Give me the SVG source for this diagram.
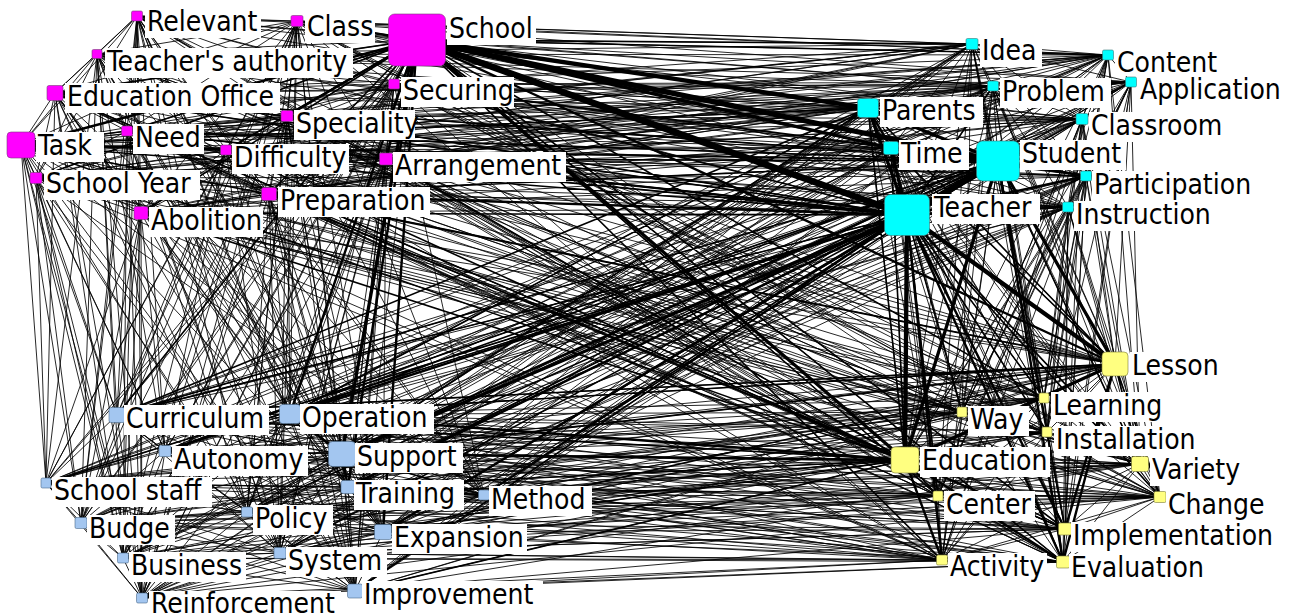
<svg xmlns="http://www.w3.org/2000/svg" width="1292" height="614" viewBox="0 0 1292 614">
<style>
.e{fill:none;stroke:#000;stroke-width:.85;stroke-linejoin:round}
.w1{fill:none;stroke:#000;stroke-width:1.6}
.w2{fill:none;stroke:#000;stroke-width:2.4}
.w3{fill:none;stroke:#000;stroke-width:3.3}
.w4{fill:none;stroke:#000;stroke-width:4.3}
.w5{fill:none;stroke:#000;stroke-width:5.3}
.w6{fill:none;stroke:#000;stroke-width:6.5}
.m{fill:#ff00ff;stroke:#7a3a7a;stroke-width:.6}
.c{fill:#00ffff;stroke:#3a7a7a;stroke-width:.6}
.y{fill:#ffff80;stroke:#7a7a3a;stroke-width:.6}
.b{fill:#a3c6f0;stroke:#4a6a8a;stroke-width:.6}
.lb{fill:#fff}
.t{font-family:"DejaVu Sans Condensed","DejaVu Sans",sans-serif;font-stretch:condensed;font-size:28px;fill:#000}
</style>
<rect width="1292" height="614" fill="#fff"/>
<g id="connectors">
<path class="e" d="M137 16L297 21 417 40 97 54 55 93 394 84 287 116 21 145 127 131 226 150 386 159 36 178 269 194 141 213 972 44 1108 55 1131 82 993 86 868 108 1082 119 891 148 998 161 1086 176 907 215 1068 207 1115 364 1044 398 962 412 1047 432 905 460 1140 464 938 496 1160 497 1065 529 942 560 1063 562 117 415 290 414 165 451 342 454 46 483 348 487 484 495 247 512 81 523 383 532 123 558 280 553 355 591 142 598 137 16"/>
<path class="e" d="M137 16L97 54 287 116 226 150 269 194 1108 55 868 108 998 161 1068 207 962 412 1140 464 1065 529 117 415 342 454 484 495 383 532 355 591 297 21 55 93 21 145 386 159 141 213 1131 82 1082 119 1086 176 1115 364 1047 432 938 496 942 560 290 414 46 483 247 512 123 558 142 598 417 40 394 84 127 131 36 178 972 44 993 86 891 148 907 215 1044 398 905 460 1160 497 1063 562 165 451 348 487 81 523 280 553 137 16"/>
<path class="e" d="M137 16L21 145 972 44 998 161 1047 432 1063 562 484 495 142 598 287 116 141 213 891 148 962 412 942 560 348 487 355 591 394 84 269 194 1082 119 1044 398 1065 529 46 483 280 553 55 93 36 178 868 108 1115 364 1160 497 342 454 123 558 97 54 386 159 993 86 1068 207 938 496 165 451 383 532 417 40 226 150 1131 82 907 215 1140 464 290 414 81 523 297 21 127 131 1108 55 1086 176 905 460 117 415 247 512 137 16"/>
<path class="e" d="M137 16L226 150 868 108 962 412 117 415 383 532 55 93 141 213 1086 176 938 496 46 483 142 598 127 131 993 86 1044 398 1063 562 81 523 97 54 269 194 998 161 1140 464 342 454 355 591 21 145 1131 82 1115 364 942 560 247 512 417 40 36 178 891 148 905 460 165 451 280 553 287 116 1108 55 1068 207 1065 529 484 495 297 21 386 159 1082 119 1047 432 290 414 123 558 394 84 972 44 907 215 1160 497 348 487 137 16"/>
<path class="e" d="M137 16L36 178 1086 176 1065 529 81 523 394 84 1131 82 962 412 165 451 142 598 386 159 998 161 1160 497 247 512 55 93 1108 55 1044 398 290 414 355 591 226 150 891 148 938 496 484 495 97 54 972 44 1115 364 117 415 280 553 127 131 1082 119 1140 464 348 487 417 40 141 213 1068 207 1063 562 123 558 21 145 868 108 905 460 46 483 297 21 269 194 907 215 942 560 383 532 287 116 993 86 1047 432 342 454 137 16"/>
<path class="e" d="M137 16L141 213 1044 398 342 454 417 40 1108 55 1047 432 348 487 55 93 993 86 1140 464 247 512 287 116 1082 119 1160 497 383 532 127 131 998 161 942 560 280 553 386 159 907 215 117 415 142 598 269 194 1115 364 165 451 297 21 972 44 962 412 46 483 97 54 1131 82 905 460 484 495 394 84 868 108 938 496 81 523 21 145 891 148 1065 529 123 558 226 150 1086 176 1063 562 355 591 36 178 1068 207 290 414 137 16"/>
<path class="e" d="M137 16L993 86 942 560 297 21 868 108 1063 562 417 40 1082 119 117 415 97 54 891 148 290 414 55 93 998 161 165 451 394 84 1086 176 342 454 287 116 907 215 46 483 21 145 1068 207 348 487 127 131 1115 364 484 495 226 150 1044 398 247 512 386 159 962 412 81 523 36 178 1047 432 383 532 269 194 905 460 123 558 141 213 1140 464 280 553 972 44 938 496 355 591 1108 55 1160 497 142 598 1131 82 1065 529 137 16"/>
<path class="e" d="M137 16L1082 119 165 451 21 145 1044 398 383 532 972 44 1065 529 417 40 998 161 46 483 226 150 1047 432 280 553 1131 82 1063 562 55 93 907 215 484 495 36 178 1140 464 142 598 868 108 290 414 287 116 1115 364 81 523 141 213 1160 497 297 21 891 148 342 454 127 131 962 412 123 558 1108 55 942 560 97 54 1086 176 348 487 386 159 905 460 355 591 993 86 117 415 394 84 1068 207 247 512 269 194 938 496 137 16"/>
<path class="e" d="M137 16L998 161 484 495 141 213 942 560 394 84 1044 398 280 553 868 108 342 454 386 159 938 496 417 40 907 215 81 523 1108 55 117 415 21 145 1047 432 142 598 891 148 348 487 269 194 1065 529 55 93 1115 364 123 558 993 86 165 451 226 150 1140 464 297 21 1086 176 247 512 972 44 1063 562 287 116 962 412 355 591 1082 119 46 483 36 178 1160 497 97 54 1068 207 383 532 1131 82 290 414 127 131 905 460 137 16"/>
<path class="e" d="M137 16L907 215 123 558 1082 119 484 495 1108 55 165 451 36 178 942 560 21 145 1140 464 97 54 1044 398 142 598 1086 176 383 532 868 108 348 487 972 44 290 414 386 159 1065 529 287 116 905 460 417 40 1115 364 355 591 998 161 81 523 993 86 46 483 141 213 117 415 226 150 1160 497 394 84 1047 432 297 21 1068 207 280 553 891 148 247 512 1131 82 342 454 269 194 1063 562 127 131 938 496 55 93 962 412 137 16"/>
<path class="e" d="M137 16L417 40 55 93 287 116 127 131 386 159 269 194 972 44 1131 82 868 108 891 148 1086 176 1068 207 1044 398 1047 432 1140 464 1160 497 942 560 117 415 165 451 46 483 484 495 81 523 123 558 355 591 137 16M297 21L97 54 394 84 21 145 226 150 36 178 141 213 1108 55 993 86 1082 119 998 161 907 215 1115 364 962 412 905 460 938 496 1065 529 1063 562 290 414 342 454 348 487 247 512 383 532 280 553 142 598 297 21"/>
<path class="e" d="M137 16L55 93 127 131 269 194 1131 82 891 148 1068 207 1047 432 1160 497 117 415 46 483 81 523 355 591 417 40 287 116 386 159 972 44 868 108 1086 176 1044 398 1140 464 942 560 165 451 484 495 123 558 137 16M297 21L394 84 226 150 141 213 993 86 998 161 1115 364 905 460 1065 529 290 414 348 487 383 532 142 598 97 54 21 145 36 178 1108 55 1082 119 907 215 962 412 938 496 1063 562 342 454 247 512 280 553 297 21"/>
<path class="e" d="M137 16L287 116 269 194 868 108 1068 207 1140 464 117 415 484 495 355 591 55 93 386 159 1131 82 1086 176 1047 432 942 560 46 483 123 558 417 40 127 131 972 44 891 148 1044 398 1160 497 165 451 81 523 137 16M297 21L21 145 141 213 1082 119 1115 364 938 496 290 414 247 512 142 598 394 84 36 178 993 86 907 215 905 460 1063 562 348 487 280 553 97 54 226 150 1108 55 998 161 962 412 1065 529 342 454 383 532 297 21"/>
<path class="e" d="M137 16L127 131 1131 82 1068 207 1160 497 46 483 355 591 287 116 972 44 1086 176 1140 464 165 451 123 558 55 93 269 194 891 148 1047 432 117 415 81 523 417 40 386 159 868 108 1044 398 942 560 484 495 137 16M297 21L226 150 993 86 1115 364 1065 529 348 487 142 598 21 145 1108 55 907 215 938 496 342 454 280 553 394 84 141 213 998 161 905 460 290 414 383 532 97 54 36 178 1082 119 962 412 1063 562 247 512 297 21"/>
<path class="e" d="M137 16L394 84 386 159 1108 55 891 148 1115 364 1140 464 1063 562 46 483 383 532 137 16M297 21L287 116 36 178 1131 82 998 161 1044 398 938 496 117 415 348 487 123 558 297 21M417 40L21 145 269 194 993 86 1086 176 962 412 1160 497 290 414 484 495 280 553 417 40M97 54L127 131 141 213 868 108 907 215 1047 432 1065 529 165 451 247 512 355 591 97 54M55 93L226 150 972 44 1082 119 1068 207 905 460 942 560 342 454 81 523 142 598 55 93"/>
<path class="e" d="M137 16L1108 55 1140 464 383 532 386 159 1115 364 46 483 394 84 891 148 1063 562 137 16M297 21L1131 82 938 496 123 558 36 178 1044 398 348 487 287 116 998 161 117 415 297 21M417 40L993 86 1160 497 280 553 269 194 962 412 484 495 21 145 1086 176 290 414 417 40M97 54L868 108 1065 529 355 591 141 213 1047 432 247 512 127 131 907 215 165 451 97 54M55 93L1082 119 942 560 142 598 972 44 905 460 81 523 226 150 1068 207 342 454 55 93"/>
<path class="e" d="M137 16L1115 364M297 21L1044 398M417 40L962 412M97 54L1047 432M55 93L905 460M394 84L1140 464M287 116L938 496M21 145L1160 497M127 131L1065 529M226 150L942 560M386 159L1063 562M36 178L117 415M269 194L290 414M141 213L165 451M972 44L342 454M1108 55L46 483M1131 82L348 487M993 86L484 495M868 108L247 512M1082 119L81 523M891 148L383 532M998 161L123 558M1086 176L280 553M907 215L355 591M1068 207L142 598"/>
<path class="e" d="M137 16L269 194 1068 207 117 415 355 591 386 159 1086 176 942 560 123 558 127 131 891 148 1160 497 81 523 287 116 868 108 1140 464 484 495 55 93 1131 82 1047 432 46 483 417 40 972 44 1044 398 165 451 137 16M297 21L141 213 1115 364 290 414 142 598 36 178 907 215 1063 562 280 553 226 150 998 161 1065 529 383 532 21 145 1082 119 938 496 247 512 394 84 993 86 905 460 348 487 97 54 1108 55 962 412 342 454 297 21"/>
<path class="e" d="M137 16L972 44 1047 432 484 495 287 116 891 148 942 560 355 591 269 194 1044 398 46 483 55 93 868 108 1160 497 123 558 386 159 1068 207 165 451 417 40 1131 82 1140 464 81 523 127 131 1086 176 117 415 137 16M297 21L1108 55 905 460 247 512 21 145 998 161 1063 562 142 598 141 213 962 412 348 487 394 84 1082 119 1065 529 280 553 36 178 1115 364 342 454 97 54 993 86 938 496 383 532 226 150 907 215 290 414 297 21"/>
<path class="w1" d="M417 40L972 44M417 40L117 415M417 40L55 93M417 40L1108 55M417 40L269 194M417 40L226 150M417 40L127 131M907 215L342 454M907 215L117 415M907 215L21 145M907 215L55 93M998 161L290 414M998 161L269 194M905 460L117 415M905 460L383 532M905 460L348 487M1115 364L342 454M1115 364L290 414M907 215L1044 398M907 215L1047 432M907 215L962 412M998 161L1065 529M417 40L1044 398M21 145L226 150M21 145L127 131M55 93L287 116M342 454L484 495M907 215L1082 119M907 215L993 86M868 108L1115 364M21 145L998 161M21 145L905 460M55 93L998 161M127 131L907 215M226 150L907 215M269 194L905 460M386 159L998 161M386 159L905 460M287 116L907 215M394 84L907 215M394 84L998 161M117 415L998 161M117 415L1115 364M290 414L1115 364M348 487L907 215M348 487L998 161M383 532L998 161M383 532L1115 364M484 495L907 215M165 451L907 215M247 512L907 215M46 483L907 215M280 553L907 215M355 591L905 460M355 591L907 215M417 40L1065 529M417 40L1063 562M417 40L942 560M417 40L938 496M868 108L905 460M891 148L905 460M891 148L1115 364M907 215L938 496M907 215L1140 464M907 215L1160 497M998 161L1140 464M1115 364L1160 497M1115 364L1140 464M905 460L1065 529M905 460L938 496M417 40L141 213M417 40L36 178M21 145L868 108M21 145L1115 364M55 93L905 460M141 213L907 215M141 213L905 460M269 194L998 161M269 194L1115 364M117 415L868 108M290 414L868 108M342 454L868 108M383 532L907 215M484 495L998 161M165 451L998 161M226 150L905 460M127 131L998 161"/>
<path class="w2" d="M417 40L1115 364M417 40L290 414M417 40L348 487M417 40L383 532M417 40L386 159M417 40L394 84M417 40L297 21M417 40L21 145M417 40L287 116M907 215L290 414M907 215L269 194M907 215L386 159M907 215L383 532M907 215L348 487M907 215L942 560M907 215L1063 562M907 215L1065 529M907 215L1086 176M907 215L1068 207M998 161L1086 176M998 161L342 454M998 161L1063 562M905 460L342 454M905 460L290 414M905 460L942 560M905 460L1063 562M1115 364L1065 529M1115 364L1063 562M342 454L290 414M342 454L348 487M868 108L891 148"/>
<path class="w3" d="M417 40L891 148M417 40L905 460M417 40L342 454M907 215L868 108M907 215L891 148M907 215L342 454M998 161L1115 364M998 161L905 460M998 161L868 108M905 460L1115 364"/>
<path class="w4" d="M417 40L868 108M907 215L905 460M907 215L1115 364"/>
<path class="w5" d="M417 40L998 161"/>
<path class="w6" d="M417 40L907 215M907 215L998 161"/>
</g>
<g id="n-relevant"><rect class="m" x="131.5" y="11" width="11" height="10" rx="1.5"/><rect class="lb" x="145" y="8" width="116" height="30"/><text class="t" x="147" y="31">Relevant</text></g>
<g id="n-class"><rect class="m" x="291" y="15.5" width="12" height="11" rx="1.5"/><rect class="lb" x="305" y="13" width="70" height="30"/><text class="t" x="307" y="36">Class</text></g>
<g id="n-school"><rect class="m" x="388.5" y="14" width="57" height="52" rx="6"/><rect class="lb" x="447" y="15" width="89" height="30"/><text class="t" x="449" y="38">School</text></g>
<g id="n-teachers-authority"><rect class="m" x="92" y="49.5" width="10" height="9" rx="1.5"/><rect class="lb" x="105" y="48" width="248" height="30"/><text class="t" x="107" y="71">Teacher's authority</text></g>
<g id="n-education-office"><rect class="m" x="47" y="85.5" width="16" height="15" rx="2"/><rect class="lb" x="65" y="83" width="215" height="30"/><text class="t" x="67" y="106">Education Office</text></g>
<g id="n-securing"><rect class="m" x="388.5" y="79" width="11" height="10" rx="1.5"/><rect class="lb" x="401" y="77" width="113" height="30"/><text class="t" x="403" y="100">Securing</text></g>
<g id="n-speciality"><rect class="m" x="281" y="110.5" width="12" height="11" rx="1.5"/><rect class="lb" x="294" y="110" width="121" height="30"/><text class="t" x="296" y="133">Speciality</text></g>
<g id="n-task"><rect class="m" x="7" y="132" width="28" height="26" rx="4"/><rect class="lb" x="36" y="132" width="68" height="30"/><text class="t" x="38" y="155">Task</text></g>
<g id="n-need"><rect class="m" x="121.5" y="126" width="11" height="10" rx="1.5"/><rect class="lb" x="133" y="124" width="71" height="30"/><text class="t" x="135" y="147">Need</text></g>
<g id="n-difficulty"><rect class="m" x="220.5" y="145" width="11" height="10" rx="1.5"/><rect class="lb" x="232" y="144" width="117" height="30"/><text class="t" x="234" y="167">Difficulty</text></g>
<g id="n-arrangement"><rect class="m" x="379.5" y="153" width="13" height="12" rx="1.5"/><rect class="lb" x="393" y="152" width="173" height="30"/><text class="t" x="395" y="175">Arrangement</text></g>
<g id="n-school-year"><rect class="m" x="30" y="172.5" width="12" height="11" rx="1.5"/><rect class="lb" x="44" y="170" width="156" height="30"/><text class="t" x="46" y="193">School Year</text></g>
<g id="n-preparation"><rect class="m" x="261.5" y="187.5" width="15" height="13" rx="2"/><rect class="lb" x="278" y="187" width="152" height="30"/><text class="t" x="280" y="210">Preparation</text></g>
<g id="n-abolition"><rect class="m" x="134" y="206.5" width="14" height="13" rx="2"/><rect class="lb" x="149" y="207" width="114" height="30"/><text class="t" x="151" y="230">Abolition</text></g>
<g id="n-idea"><rect class="c" x="966" y="38.5" width="12" height="11" rx="1.5"/><rect class="lb" x="980" y="37" width="62" height="30"/><text class="t" x="982" y="60">Idea</text></g>
<g id="n-content"><rect class="c" x="1102.5" y="50" width="11" height="10" rx="1.5"/><rect class="lb" x="1115" y="49" width="106" height="27"/><text class="t" x="1117" y="72">Content</text></g>
<g id="n-application"><rect class="c" x="1125.5" y="77" width="11" height="10" rx="1.5"/><rect class="lb" x="1138" y="77" width="143" height="29"/><text class="t" x="1140" y="99">Application</text></g>
<g id="n-problem"><rect class="c" x="987.5" y="81" width="11" height="10" rx="1.5"/><rect class="lb" x="1000" y="78" width="111" height="30"/><text class="t" x="1002" y="101">Problem</text></g>
<g id="n-parents"><rect class="c" x="857.5" y="98.5" width="21" height="19" rx="3"/><rect class="lb" x="880" y="97" width="103" height="30"/><text class="t" x="882" y="120">Parents</text></g>
<g id="n-classroom"><rect class="c" x="1076" y="113.5" width="12" height="11" rx="1.5"/><rect class="lb" x="1089" y="112" width="137" height="30"/><text class="t" x="1091" y="135">Classroom</text></g>
<g id="n-time"><rect class="c" x="883.5" y="141.5" width="15" height="13" rx="2"/><rect class="lb" x="899" y="140" width="70" height="30"/><text class="t" x="901" y="163">Time</text></g>
<g id="n-student"><rect class="c" x="976.5" y="141" width="43" height="40" rx="6"/><rect class="lb" x="1020" y="140" width="106" height="30"/><text class="t" x="1022" y="163">Student</text></g>
<g id="n-participation"><rect class="c" x="1080.5" y="171" width="11" height="10" rx="1.5"/><rect class="lb" x="1092" y="171" width="162" height="30"/><text class="t" x="1094" y="194">Participation</text></g>
<g id="n-teacher"><rect class="c" x="884.5" y="194.5" width="45" height="41" rx="6"/><rect class="lb" x="932" y="194" width="108" height="30"/><text class="t" x="934" y="217">Teacher</text></g>
<g id="n-instruction"><rect class="c" x="1062.5" y="202" width="11" height="10" rx="1.5"/><rect class="lb" x="1074" y="201" width="141" height="30"/><text class="t" x="1076" y="224">Instruction</text></g>
<g id="n-lesson"><rect class="y" x="1102" y="352" width="26" height="24" rx="4"/><rect class="lb" x="1130" y="352" width="94" height="30"/><text class="t" x="1132" y="375">Lesson</text></g>
<g id="n-learning"><rect class="y" x="1039" y="393" width="10" height="10" rx="1.5"/><rect class="lb" x="1051" y="392" width="115" height="30"/><text class="t" x="1053" y="415">Learning</text></g>
<g id="n-way"><rect class="y" x="957" y="407" width="10" height="10" rx="1.5"/><rect class="lb" x="968" y="406" width="61" height="30"/><text class="t" x="970" y="429">Way</text></g>
<g id="n-installation"><rect class="y" x="1042" y="427" width="10" height="10" rx="1.5"/><rect class="lb" x="1054" y="426" width="146" height="30"/><text class="t" x="1056" y="449">Installation</text></g>
<g id="n-education"><rect class="y" x="891" y="447" width="28" height="26" rx="4"/><rect class="lb" x="920" y="447" width="130" height="30"/><text class="t" x="922" y="470">Education</text></g>
<g id="n-variety"><rect class="y" x="1131.5" y="456.5" width="17" height="15" rx="2"/><rect class="lb" x="1150" y="456" width="94" height="30"/><text class="t" x="1152" y="479">Variety</text></g>
<g id="n-center"><rect class="y" x="933" y="491" width="10" height="10" rx="1.5"/><rect class="lb" x="944" y="491" width="91" height="30"/><text class="t" x="946" y="514">Center</text></g>
<g id="n-change"><rect class="y" x="1154" y="491.5" width="12" height="11" rx="1.5"/><rect class="lb" x="1166" y="491" width="104" height="30"/><text class="t" x="1168" y="514">Change</text></g>
<g id="n-implementation"><rect class="y" x="1058.5" y="523" width="13" height="12" rx="1.5"/><rect class="lb" x="1071" y="522" width="209" height="30"/><text class="t" x="1073" y="545">Implementation</text></g>
<g id="n-activity"><rect class="y" x="936.5" y="555" width="11" height="10" rx="1.5"/><rect class="lb" x="948" y="553" width="99" height="30"/><text class="t" x="950" y="576">Activity</text></g>
<g id="n-evaluation"><rect class="y" x="1056.5" y="556" width="13" height="12" rx="1.5"/><rect class="lb" x="1069" y="554" width="139" height="30"/><text class="t" x="1071" y="577">Evaluation</text></g>
<g id="n-curriculum"><rect class="b" x="109" y="407.5" width="16" height="15" rx="2"/><rect class="lb" x="124" y="405" width="145" height="30"/><text class="t" x="126" y="428">Curriculum</text></g>
<g id="n-operation"><rect class="b" x="279.5" y="404.5" width="21" height="19" rx="3"/><rect class="lb" x="300" y="404" width="134" height="30"/><text class="t" x="302" y="427">Operation</text></g>
<g id="n-autonomy"><rect class="b" x="159" y="445.5" width="12" height="11" rx="1.5"/><rect class="lb" x="172" y="446" width="136" height="30"/><text class="t" x="174" y="469">Autonomy</text></g>
<g id="n-support"><rect class="b" x="328.5" y="441.5" width="27" height="25" rx="4"/><rect class="lb" x="355" y="443" width="108" height="30"/><text class="t" x="357" y="466">Support</text></g>
<g id="n-school-staff"><rect class="b" x="41" y="478" width="10" height="10" rx="1.5"/><rect class="lb" x="52" y="477" width="160" height="30"/><text class="t" x="54" y="500">School staff</text></g>
<g id="n-training"><rect class="b" x="341" y="480.5" width="14" height="13" rx="2"/><rect class="lb" x="354" y="480" width="110" height="30"/><text class="t" x="356" y="503">Training</text></g>
<g id="n-method"><rect class="b" x="478.5" y="490" width="11" height="10" rx="1.5"/><rect class="lb" x="489" y="486" width="103" height="30"/><text class="t" x="491" y="509">Method</text></g>
<g id="n-policy"><rect class="b" x="241.5" y="507" width="11" height="10" rx="1.5"/><rect class="lb" x="253" y="505" width="80" height="30"/><text class="t" x="255" y="528">Policy</text></g>
<g id="n-budge"><rect class="b" x="75" y="517.5" width="12" height="11" rx="1.5"/><rect class="lb" x="87" y="515" width="88" height="30"/><text class="t" x="89" y="538">Budge</text></g>
<g id="n-expansion"><rect class="b" x="374.5" y="524.5" width="17" height="15" rx="2"/><rect class="lb" x="392" y="524" width="135" height="30"/><text class="t" x="394" y="547">Expansion</text></g>
<g id="n-business"><rect class="b" x="117.5" y="553" width="11" height="10" rx="1.5"/><rect class="lb" x="129" y="552" width="117" height="30"/><text class="t" x="131" y="575">Business</text></g>
<g id="n-system"><rect class="b" x="274" y="547.5" width="12" height="11" rx="1.5"/><rect class="lb" x="286" y="547" width="101" height="30"/><text class="t" x="288" y="570">System</text></g>
<g id="n-improvement"><rect class="b" x="347.5" y="584" width="15" height="14" rx="2"/><rect class="lb" x="362" y="581" width="181" height="30"/><text class="t" x="364" y="604">Improvement</text></g>
<g id="n-reinforcement"><rect class="b" x="136.5" y="593" width="11" height="10" rx="1.5"/><rect class="lb" x="149" y="591" width="192" height="23"/><text class="t" x="151" y="613">Reinforcement</text></g>
</svg>
